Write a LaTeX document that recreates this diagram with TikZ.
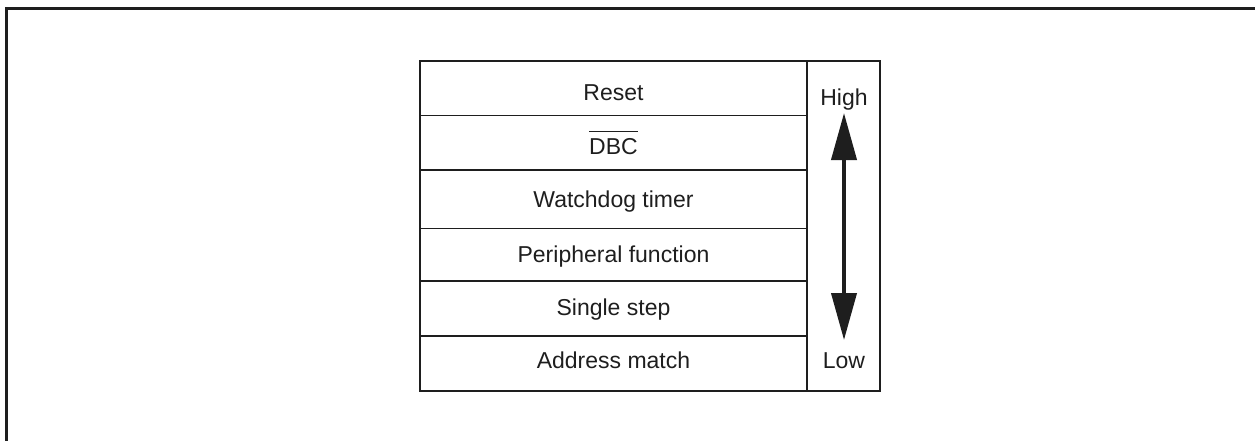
\documentclass[tikz,border=0pt]{standalone}
\usepackage{fontspec}
\setmainfont{Liberation Sans}
\usetikzlibrary{arrows.meta}
\definecolor{ink}{HTML}{1E1E1E}
\tikzset{
  lbl/.style={font=\fontsize{23}{27}\selectfont, text=ink, inner sep=0pt, anchor=base},
  frameline/.style={draw=ink, line width=3pt},
  tableline/.style={draw=ink, line width=2pt},
  rowline/.style={draw=ink, line width=1.3pt},
}
\begin{document}
\begin{tikzpicture}[x=1pt,y=-1pt]
\useasboundingbox (0,0) rectangle (1255,440);
% outer frame (runs off the right and bottom edges)
\draw[frameline] (6.5,460) -- (6.5,8.5) -- (1275,8.5);
% table
\coordinate (tl) at (420,61);
\coordinate (br) at (880,391);
\draw[tableline] (tl) rectangle (br);
\draw[tableline] (807,61) -- (807,391);
\foreach \y in {115.5,170,228.5,281,336}{
  \draw[rowline] (420,\y) -- (807,\y);
}
% row labels
\node[lbl] (r1) at (613.5,100.5) {Reset};
\node[lbl] (r2) at (613.5,154.5) {DBC};
\draw[ink, line width=1.3pt] ([yshift=7pt]r2.north west) -- ([yshift=7pt]r2.north east);
\node[lbl] (r3) at (613.5,207.5) {Watchdog timer};
\node[lbl] (r4) at (613.5,262.5) {Peripheral function};
\node[lbl] (r5) at (613.5,315.5) {Single step};
\node[lbl] (r6) at (613.5,368.5) {Address match};
% priority arrow
\node[lbl] (high) at (844,105.5) {High};
\node[lbl] (low) at (844,368.5) {Low};
\coordinate (up) at (844,113);
\coordinate (dn) at (844,340);
\draw[ink, line width=4pt, {Triangle[width=25pt,length=47pt]}-{Triangle[width=25pt,length=47pt]}] (up) -- (dn);
\end{tikzpicture}
\end{document}
